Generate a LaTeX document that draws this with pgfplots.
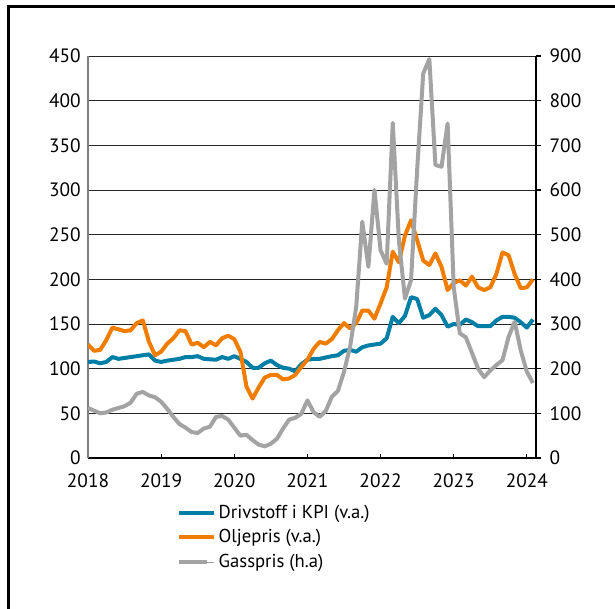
\documentclass[border=0pt]{standalone}
\usepackage{fontspec}
\setmainfont{PT Sans}
\usepackage{pgfplots}
\usepackage{pgfplotstable}
\pgfplotsset{compat=1.18}
\definecolor{kpiblue}{HTML}{007FA6}
\definecolor{oilorange}{HTML}{F07D00}
\definecolor{gasgrey}{HTML}{A3A3A3}

% month index 0 = Jan 2018
\pgfplotstableread{
m kpi olje gass
0 107.5 127 112
1 108 120 106
2 106 121 100
3 107.5 132 102
4 113 146 108
5 111 144 112
6 112 142 116
7 113 143 124
8 114 151 144
9 115 154 148
10 116 130 140
11 109 115 136
12 107.5 119 126
13 109 128 110
14 110 134 92
15 111 143 76
16 113 142 68
17 113 127 58
18 114 129 56
19 111 124 66
20 110.5 130 70
21 110 126 92
22 113 134 94
23 111 137 86
24 114 133 68
25 111 119 50
26 107.5 80 52
27 101 66.5 40
28 101 79 30
29 106 90 26
30 109 93 32
31 104 93 43
32 101 88 66
33 100 89 86
34 97 93 90
35 105 102 99
36 110 110 129
37 111 122 103
38 111 130 92
39 112.5 128 105
40 114 133 137
41 115 143 150
42 120 151 193
43 121 145 249
44 119 151 338
45 124 165 529
46 126 165 428
47 127 156 600
48 128 173 465
49 134 191 435
50 158 231 750
51 151 219 488
52 159 249 357
53 180 266 398
54 178 244 645
55 157 221 861
56 160 216 893
57 167 229 656
58 160 214 652
59 147 188 749
60 150 196 383
61 149 199 279
62 155 193 270
63 152 203 235
64 147.5 191 200
65 147.5 188 181
66 147.5 191 196
67 154 206 208
68 158 230 219
69 158 227 271
70 157 206 305
71 152 190 241
72 146 191 193
73 155 200 168
}\prisdata

\begin{document}
\begin{tikzpicture}
\useasboundingbox (0,0) rectangle (461.25pt,456pt);
\draw[line width=2.25pt] (6pt,-5pt) -- (6pt,450.75pt) -- (470pt,450.75pt);

\pgfplotsset{
  base/.style={
    at={(66pt,112.5pt)}, anchor=south west,
    scale only axis, width=336pt, height=301.5pt,
    xmin=0, xmax=73.5,
    font=\fontsize{14.5}{17}\selectfont,
    /pgf/number format/assume math mode=true,
  },
}

\begin{axis}[base,
  ymin=0, ymax=450, ytick={0,50,...,450},
  axis x line*=bottom, axis y line*=left,
  x axis line style={black, line width=0.8pt},
  y axis line style={gray, line width=0.8pt},
  xtick={0,12,...,72},
  xticklabels={2018,2019,2020,2021,2022,2023,2024},
  xtick style={black, line width=0.8pt},
  tick align=inside, major tick length=3pt,
  ytick style={draw=none},
  ymajorgrids, grid style={black!85, line width=0.6pt},
  yticklabel style={xshift=-2pt},
  xticklabel style={yshift=-8pt},
  legend cell align=left,
  legend style={draw=none, fill=none, at={(0.19,-0.103)}, anchor=north west,
    font=\fontsize{14}{17}\selectfont, row sep=3pt,
    nodes={inner sep=2pt}},
  legend image code/.code={\path (0pt,0pt) -- (26pt,0pt);
    \draw[#1, line width=3pt] (0pt,0pt) -- (21pt,0pt);},
]
\addplot[kpiblue, line width=3pt, line join=round] table[x=m, y=kpi] {\prisdata};
\addlegendentry{Drivstoff i KPI (v.a.)}
\addplot[oilorange, line width=3pt, line join=round] table[x=m, y=olje] {\prisdata};
\addlegendentry{Oljepris (v.a.)}
\addlegendimage{gasgrey}
\addlegendentry{Gasspris (h.a)}
\end{axis}

\begin{axis}[base,
  ymin=0, ymax=900, ytick={0,100,...,900},
  axis x line=none, axis y line*=right,
  y axis line style={black, line width=0.8pt},
  ytick style={black, line width=0.8pt},
  tick align=outside, major tick length=3.75pt,
  yticklabel style={xshift=3pt},
]
\addplot[gasgrey, line width=3pt, line join=round] table[x=m, y=gass] {\prisdata};
\end{axis}
\end{tikzpicture}
\end{document}
